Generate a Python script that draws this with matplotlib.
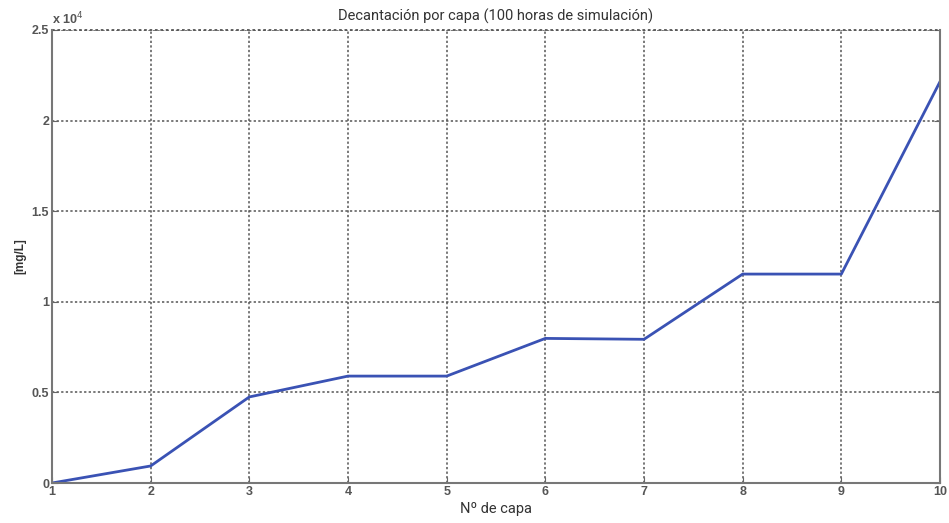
import matplotlib
matplotlib.use('Agg')
import matplotlib.pyplot as plt

capas = [1, 2, 3, 4, 5, 6, 7, 8, 9, 10]
conc = [0, 940, 4750, 5900, 5900, 7980, 7930, 11530, 11530, 22150]

xticks = [1, 2, 3, 4, 5, 6, 7, 8, 9, 10]
yticks = [0, 5000, 10000, 15000, 20000, 25000]
ylabels = ['0', '0.5', '1', '1.5', '2', '2.5']

fig = plt.figure(figsize=(9.49, 5.23), dpi=100)
ax = fig.add_axes([52 / 949, 1 - 483 / 523, 888 / 949, 453 / 523])

ax.plot(capas, conc, color='#3a52b4', lw=2)

ax.set_xlim(1, 10)
ax.set_ylim(0, 25000)
ax.set_xticks(xticks)
ax.set_yticks(yticks)
tick_font = dict(family='Liberation Sans', weight='bold', size=9, color='#555555')
ax.set_xticklabels([str(t) for t in xticks], **tick_font)
ax.set_yticklabels(ylabels, **tick_font)
ax.tick_params(direction='in', length=4, color='#666666', pad=2,
               right=True, top=False)

ax.grid(True, linestyle=(0, (1.5, 1.5)), color='#555555', lw=1.1)
for side in ['left', 'bottom', 'right']:
    ax.spines[side].set_color('#777777')
    ax.spines[side].set_linewidth(1.5)
ax.spines['top'].set_visible(False)
ax.axhline(25000, linestyle=(0, (1.5, 1.5)), color='#555555', lw=1.3, clip_on=False)

ax.text(0.0, 1.005, r'x 10$^4$', transform=ax.transAxes, ha='left', va='bottom',
        family='Liberation Sans', weight='bold', size=9, color='#555555')

ax.set_title('Decantación por capa (100 horas de simulación)', family='Roboto',
             size=10.5, color='#333333', pad=7)
ax.set_xlabel('Nº de capa', family='Roboto', size=10.5, color='#333333', labelpad=3)
ax.set_ylabel('[mg/L]', family='Liberation Sans', weight='bold', size=8.5,
              color='#333333', labelpad=4)

fig.savefig('out.png', dpi=100)
